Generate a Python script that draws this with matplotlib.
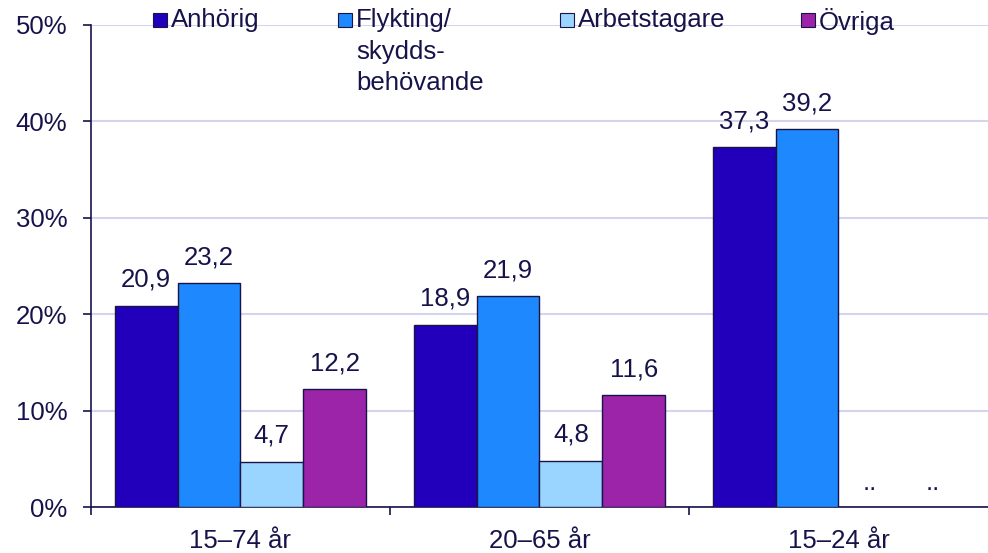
import numpy as np
import matplotlib.pyplot as plt
from matplotlib.patches import Rectangle

plt.rcParams['font.family'] = ['Liberation Sans', 'DejaVu Sans']

categories = ["15–74 år", "20–65 år", "15–24 år"]
series = ["Anhörig", "Flykting/\nskydds-\nbehövande", "Arbetstagare", "Övriga"]
anhorig = [20.9, 18.9, 37.3]
flykting = [23.2, 21.9, 39.2]
arbetstagare = [4.7, 4.8, None]
ovriga = [12.2, 11.6, None]
yticks = [0, 10, 20, 30, 40, 50]

colors = ["#2200BB", "#1E88FF", "#99D5FF", "#9B24A8"]
txt = "#16134a"
fs = 18.5

fig = plt.figure(figsize=(9.88, 5.53), dpi=100)
ax = fig.add_axes([0.092, 0.083, 0.908, 0.872])

x = np.arange(len(categories))
w = 0.21
values = [anhorig, flykting, arbetstagare, ovriga]
for i, vals in enumerate(values):
    pos = x + (i - 1.5) * w
    for p, v in zip(pos, vals):
        if v is None:
            # saknas
            ax.annotate("..", (p, 0), xytext=(0, 9), textcoords="offset points",
                        ha="center", va="bottom", fontsize=fs, color=txt)
            continue
        ax.bar(p, v, width=w, color=colors[i], edgecolor="#1a1446", linewidth=1, zorder=3)
        ax.annotate(f"{v:.1f}".replace(".", ","), (p, v), xytext=(0, 10),
                    textcoords="offset points", ha="center", va="bottom",
                    fontsize=fs, color=txt)

ax.set_xlim(-0.5, 2.5)
ax.set_ylim(0, 50)
ax.set_yticks(yticks)
ax.set_yticklabels([f"{t}%" for t in yticks], fontsize=fs, color=txt)
ax.yaxis.grid(True, color="#d4d4ee", linewidth=1.5, zorder=0)
ax.set_axisbelow(True)
ax.tick_params(axis="y", length=6, width=1.2, color=txt, pad=11)

ax.set_xticks(x)
ax.set_xticklabels(categories, fontsize=fs, color=txt)
ax.tick_params(axis="x", which="major", length=0, pad=16)
ax.set_xticks([-0.5, 0.5, 1.5], minor=True)
ax.tick_params(axis="x", which="minor", length=6, width=1.2, color=txt)

for s in ["top", "right"]:
    ax.spines[s].set_visible(False)
for s in ["left", "bottom"]:
    ax.spines[s].set_color(txt)
    ax.spines[s].set_linewidth(1.2)

# legend by hand
leg_x = [153, 338, 560, 801]
for lx, lab, c in zip(leg_x, series, colors):
    fig.patches.append(Rectangle((lx / 988, 1 - 27 / 553), 14 / 988, 14 / 553,
                                 transform=fig.transFigure, facecolor=c,
                                 edgecolor="#1a1446", linewidth=0.8))
    fig.text((lx + 18) / 988, 1 - 8 / 553, lab, fontsize=fs, color=txt,
             ha="left", va="top", linespacing=1.4)

fig.savefig("out.png", dpi=100)
